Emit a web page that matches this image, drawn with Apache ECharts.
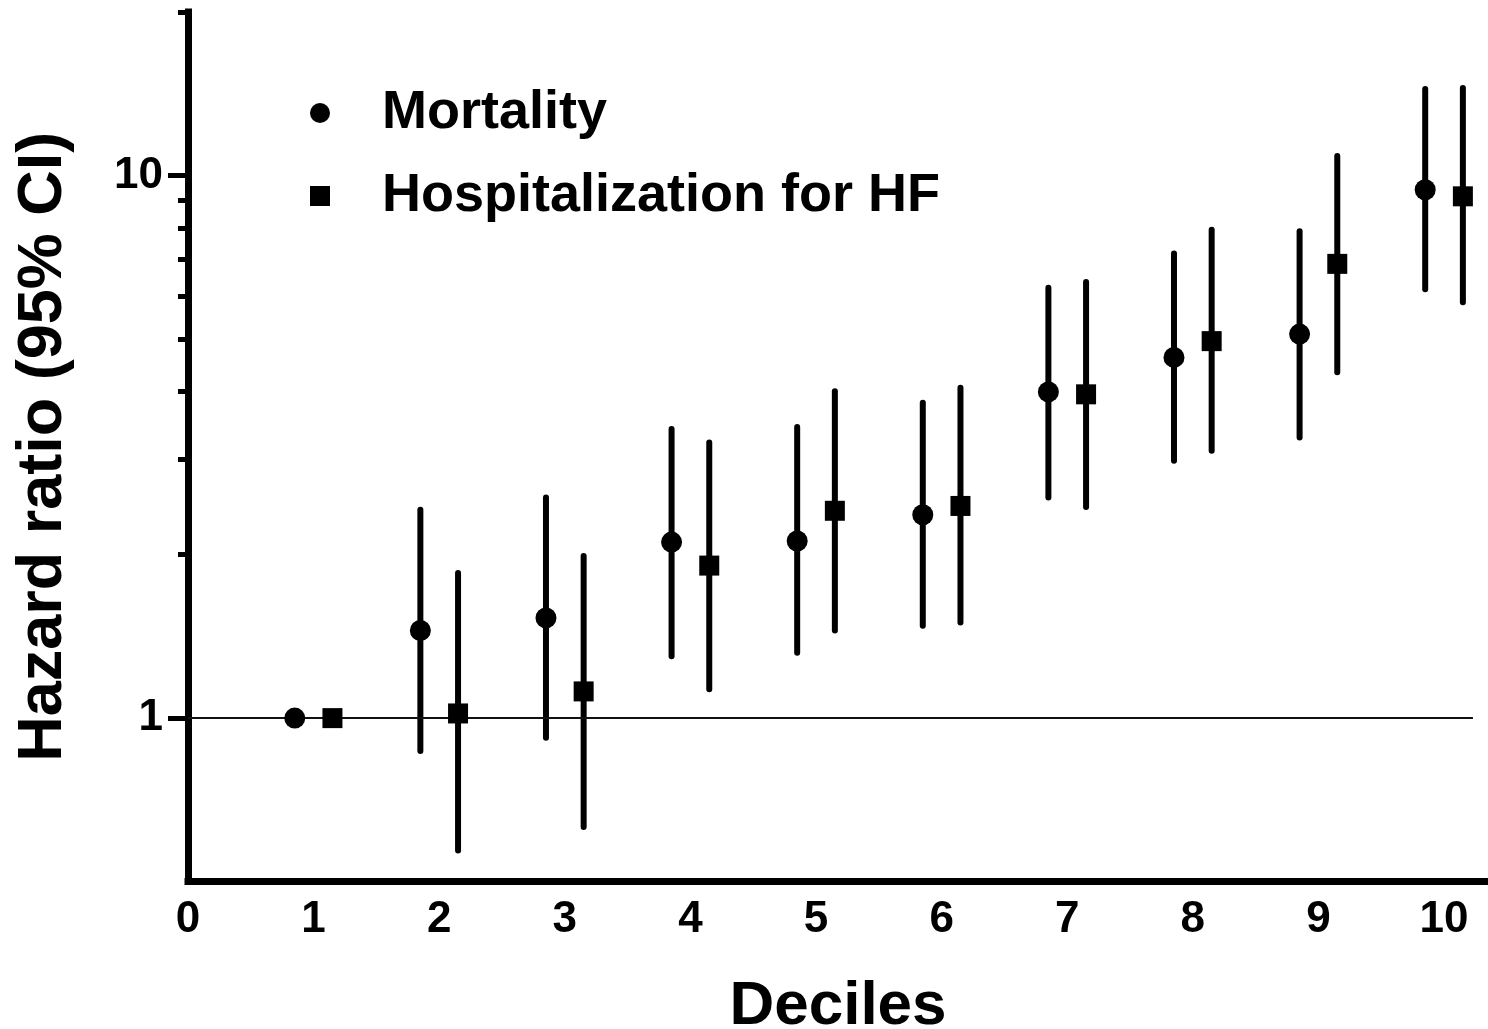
<!DOCTYPE html>
<html>
<head>
<meta charset="utf-8">
<script src="https://cdn.jsdelivr.net/npm/echarts@6/dist/echarts.min.js"></script>
<style>
  html, body { margin: 0; padding: 0; background: #ffffff; }
  #chart { width: 1488px; height: 1029px; }
</style>
</head>
<body>
<div id="chart"></div>
<script>
// ---- Data ----
const deciles = [1, 2, 3, 4, 5, 6, 7, 8, 9, 10];
const xTickLabels = [0, 1, 2, 3, 4, 5, 6, 7, 8, 9, 10];
const yMajorTicks = [1, 10];
const yMinorTicks = [2, 3, 4, 5, 6, 7, 8, 9, 20];

const mortalityHR    = [1.00, 1.45, 1.53, 2.11, 2.12, 2.37, 3.99, 4.62, 5.10, 9.41];
const mortalityLower = [null, 0.87, 0.92, 1.30, 1.32, 1.48, 2.55, 2.98, 3.29, 6.17];
const mortalityUpper = [null, 2.42, 2.55, 3.41, 3.44, 3.81, 6.21, 7.18, 7.89, 14.43];

const hospHR    = [1.00, 1.02, 1.12, 1.91, 2.41, 2.46, 3.95, 4.95, 6.87, 9.15];
const hospLower = [null, 0.57, 0.63, 1.13, 1.45, 1.50, 2.45, 3.11, 4.34, 5.84];
const hospUpper = [null, 1.85, 1.99, 3.22, 4.00, 4.06, 6.36, 7.94, 10.86, 14.49];

const referenceHR = 1;
const seriesNames = ['Mortality', 'Hospitalization for HF'];
const xAxisTitle = 'Deciles';
const yAxisTitle = 'Hazard ratio (95% CI)';

// ---- Layout / style constants ----
const OFFSET = 0.15;           // horizontal dodge of the two series within a decile
const FONT = '"Liberation Sans", Arial, Helvetica, sans-serif';
const INK = '#000000';

const mortPoints = deciles.map((d, i) => [d - OFFSET, mortalityHR[i]]);
const hospPoints = deciles.map((d, i) => [d + OFFSET, hospHR[i]]);
const mortBars = deciles.map((d, i) => [d - OFFSET, mortalityLower[i], mortalityUpper[i]]).filter(r => r[1] != null);
const hospBars = deciles.map((d, i) => [d + OFFSET, hospLower[i], hospUpper[i]]).filter(r => r[1] != null);

function errorBar(params, api) {
  const x = api.value(0);
  const lo = api.coord([x, api.value(1)]);
  const hi = api.coord([x, api.value(2)]);
  return {
    type: 'line',
    shape: { x1: lo[0], y1: lo[1], x2: hi[0], y2: hi[1] },
    style: { stroke: INK, lineWidth: 6, lineCap: 'round' }
  };
}

const chart = echarts.init(document.getElementById('chart'), null, { renderer: 'canvas' });

const yBase = {
  type: 'log',
  logBase: 10,
  min: 0.5,
  max: 20,
  position: 'left',
  splitLine: { show: false },
  minorTick: { show: false },
  minorSplitLine: { show: false }
};

chart.setOption({
  backgroundColor: '#ffffff',
  animation: false,
  grid: {
    left: 188, right: 0, top: 12, bottom: 147.5,
    containLabel: false,
    outerBoundsMode: 'none'
  },
  legend: {
    orient: 'vertical',
    left: 305,
    top: 81,
    itemGap: 29,
    itemWidth: 20,
    itemHeight: 20,
    data: [
      { name: seriesNames[0], icon: 'circle' },
      { name: seriesNames[1], icon: 'rect' }
    ],
    textStyle: {
      fontFamily: FONT,
      fontWeight: 'bold',
      fontSize: 54,
      lineHeight: 52,
      color: INK,
      padding: [0, 0, 0, 47]
    }
  },
  xAxis: {
    type: 'value',
    min: 0,
    max: 10.35,
    interval: 1,
    name: xAxisTitle,
    nameLocation: 'middle',
    nameGap: 94,
    nameTextStyle: { fontFamily: FONT, fontWeight: 'bold', fontSize: 62, color: INK },
    axisLine: { show: true, onZero: false, lineStyle: { color: INK, width: 7, cap: 'square' } },
    axisTick: { show: false },
    axisLabel: {
      customValues: xTickLabels,
      formatter: v => (Number.isInteger(v) ? String(v) : ''),
      fontFamily: FONT, fontWeight: 'bold', fontSize: 44, color: INK, margin: 16
    },
    splitLine: { show: false }
  },
  yAxis: [
    Object.assign({}, yBase, {
      name: yAxisTitle,
      nameLocation: 'middle',
      nameGap: 113,
      nameRotate: 90,
      nameTextStyle: { fontFamily: FONT, fontWeight: 'bold', fontSize: 63, color: INK },
      axisLine: { show: true, lineStyle: { color: INK, width: 7, cap: 'square' } },
      axisTick: { show: true, customValues: yMajorTicks, length: 20, lineStyle: { color: INK, width: 5 } },
      axisLabel: {
        customValues: yMajorTicks,
        formatter: v => String(Math.round(v)),
        fontFamily: FONT, fontWeight: 'bold', fontSize: 44, color: INK, margin: 25
      }
    }),
    Object.assign({}, yBase, {
      axisLine: { show: false },
      axisTick: { show: true, customValues: yMinorTicks, length: 10, lineStyle: { color: INK, width: 5 } },
      axisLabel: { show: false }
    })
  ],
  series: [
    {
      name: 'Mortality CI',
      type: 'custom',
      renderItem: errorBar,
      data: mortBars,
      encode: { x: 0, y: [1, 2] },
      z: 2,
      silent: true
    },
    {
      name: 'Hospitalization CI',
      type: 'custom',
      renderItem: errorBar,
      data: hospBars,
      encode: { x: 0, y: [1, 2] },
      z: 2,
      silent: true
    },
    {
      name: seriesNames[0],
      type: 'scatter',
      symbol: 'circle',
      symbolSize: 21,
      data: mortPoints,
      itemStyle: { color: INK, opacity: 1 },
      z: 5,
      markLine: {
        silent: true,
        symbol: 'none',
        label: { show: false },
        lineStyle: { color: '#111111', width: 2, type: 'solid' },
        data: [[{ coord: [0, referenceHR] }, { coord: [10.23, referenceHR] }]]
      }
    },
    {
      name: seriesNames[1],
      type: 'scatter',
      symbol: 'rect',
      symbolSize: 20,
      data: hospPoints,
      itemStyle: { color: INK, opacity: 1 },
      z: 5
    }
  ]
});
</script>
</body>
</html>
